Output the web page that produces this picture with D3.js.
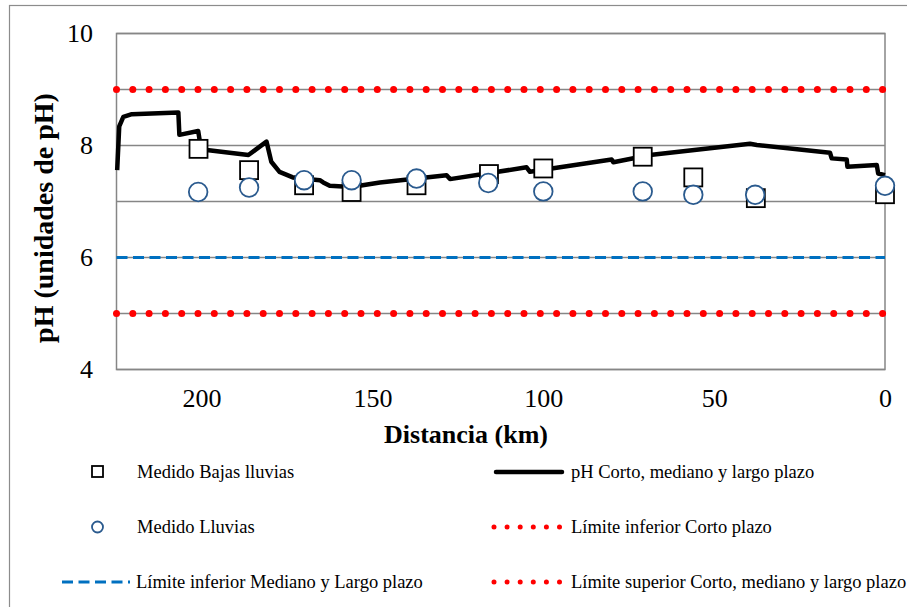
<!DOCTYPE html>
<html>
<head>
<meta charset="utf-8">
<script src="https://cdn.jsdelivr.net/npm/d3@7"></script>
<style>
  body { margin: 0; background: #fff; }
  svg, svg text { font-family: "Liberation Serif", "Times New Roman", serif; }
</style>
</head>
<body>
<svg id="chart" width="907" height="607"></svg>
<script>
// modelled pH along the river (km, pH)
var modelKm = [224.7, 224.1, 222.9, 220.4, 206.8, 206.5, 201.0, 200.5, 198.5, 186.3, 181.0,
  179.6, 177.2, 173.3, 165.4, 164.4, 162.5, 156.1, 147.8, 128.3, 127.3, 104.9, 103.9,
  80.0, 79.5, 68.8, 39.5, 37.5, 16.1, 15.6, 11.2, 11.0, 2.4, 2.0, 0];
var modelPH = [7.56, 8.34, 8.51, 8.56, 8.59, 8.19, 8.26, 8.07, 7.92, 7.83, 8.07,
  7.71, 7.53, 7.43, 7.38, 7.34, 7.28, 7.26, 7.34, 7.47, 7.40, 7.61, 7.53,
  7.75, 7.70, 7.83, 8.03, 8.01, 7.87, 7.77, 7.75, 7.62, 7.65, 7.50, 7.47];

// field measurements
var lowRainKm = [200.9, 186.1, 170.0, 156.1, 137.1, 115.9, 100.0, 70.9, 56.1, 37.8, 0];
var lowRainPH = [7.94, 7.56, 7.29, 7.17, 7.29, 7.49, 7.59, 7.80, 7.43, 7.06, 7.13];
var rainKm = [201.0, 186.1, 170.0, 156.1, 137.1, 116.1, 100.0, 70.9, 56.1, 38.0, 0];
var rainPH = [7.17, 7.25, 7.38, 7.38, 7.41, 7.33, 7.18, 7.18, 7.12, 7.12, 7.28];

// limits
var upperShort = 9, lowerShort = 5, lowerMedLong = 6;

var xTicks = [200, 150, 100, 50, 0];
var yTicks = [4, 6, 8, 10];
var gridValues = [4, 5, 6, 7, 8, 9, 10];

var serif = "'Liberation Serif', 'Times New Roman', serif";
var svg = d3.select("#chart");
var plot = {left: 116.5, right: 885, top: 33.5, bottom: 369.5};

var x = d3.scaleLinear().domain([224.9, 0]).range([plot.left, plot.right]);
var y = d3.scaleLinear().domain([4, 10]).range([plot.bottom, plot.top]);

// outer chart border
svg.append("rect")
    .attr("x", 9.5).attr("y", 5.5)
    .attr("width", 920).attr("height", 620)
    .attr("fill", "none").attr("stroke", "#8c8c8c").attr("stroke-width", 1.2);

// gridlines
svg.append("g").selectAll("line")
    .data(gridValues)
  .enter().append("line")
    .attr("x1", plot.left).attr("x2", plot.right)
    .attr("y1", function(d) { return y(d); })
    .attr("y2", function(d) { return y(d); })
    .attr("stroke", "#868686").attr("stroke-width", 1.5);

// plot frame
svg.append("rect")
    .attr("x", plot.left).attr("y", plot.top)
    .attr("width", plot.right - plot.left).attr("height", plot.bottom - plot.top)
    .attr("fill", "none").attr("stroke", "#868686").attr("stroke-width", 1.5);

// axes (labels only)
var xAxis = svg.append("g")
    .attr("transform", "translate(0," + plot.bottom + ")")
    .call(d3.axisBottom(x).tickValues(xTicks).tickFormat(d3.format("d")).tickSize(0));
var yAxis = svg.append("g")
    .attr("transform", "translate(" + plot.left + ",0)")
    .call(d3.axisLeft(y).tickValues(yTicks).tickFormat(d3.format("d")).tickSize(0).tickPadding(23.5));
[xAxis, yAxis].forEach(function(a) {
  a.select(".domain").remove();
  a.attr("font-family", null).attr("font-size", null);
  a.selectAll("text")
      .style("font-family", serif)
      .style("font-size", "26px").attr("fill", "#000");
});
xAxis.selectAll("text").attr("y", 28.5).attr("dy", "0.35em");

// axis titles
svg.append("text")
    .attr("x", 466).attr("y", 443)
    .attr("text-anchor", "middle")
    .style("font-family", serif)
    .style("font-size", "26px").style("font-weight", "bold")
    .text("Distancia (km)");
svg.append("text")
    .attr("transform", "translate(53,218) rotate(-90)")
    .attr("text-anchor", "middle")
    .style("font-family", serif)
    .style("font-size", "28px").style("font-weight", "bold")
    .text("pH (unidades de pH)");

// limit lines
function limitLine(g, v, kind) {
  var l = g.append("line")
      .attr("x1", plot.left).attr("x2", plot.right)
      .attr("y1", y(v)).attr("y2", y(v));
  styleLine(l, kind);
}
function styleLine(l, kind) {
  if (kind === "dots") {
    l.attr("stroke", "#ff0000").attr("stroke-width", 7)
     .attr("stroke-linecap", "round").attr("stroke-dasharray", "0 16.3");
  } else if (kind === "dash") {
    l.attr("stroke", "#0070c0").attr("stroke-width", 3.2)
     .attr("stroke-dasharray", "11 5.5");
  } else {
    l.attr("stroke", "#000").attr("stroke-width", 4.5).attr("stroke-linecap", "round");
  }
}
var limits = svg.append("g");
limitLine(limits, upperShort, "dots");
limitLine(limits, lowerShort, "dots");
limitLine(limits, lowerMedLong, "dash");

// model line
var model = modelKm.map(function(k, i) { return [k, modelPH[i]]; });
svg.append("path")
    .datum(model)
    .attr("fill", "none").attr("stroke", "#000").attr("stroke-width", 4.5)
    .attr("stroke-linejoin", "round")
    .attr("d", d3.line().x(function(d) { return x(d[0]); }).y(function(d) { return y(d[1]); }));

// squares
svg.append("g").selectAll("rect")
    .data(lowRainKm.map(function(k, i) { return [k, lowRainPH[i]]; }))
  .enter().append("rect")
    .attr("x", function(d) { return x(d[0]) - 9; })
    .attr("y", function(d) { return y(d[1]) - 9; })
    .attr("width", 18).attr("height", 18)
    .attr("fill", "#fff").attr("stroke", "#000").attr("stroke-width", 1.8);

// circles
svg.append("g").selectAll("circle")
    .data(rainKm.map(function(k, i) { return [k, rainPH[i]]; }))
  .enter().append("circle")
    .attr("cx", function(d) { return x(d[0]); })
    .attr("cy", function(d) { return y(d[1]); })
    .attr("r", 9.3)
    .attr("fill", "#fff").attr("stroke", "#2a5a8e").attr("stroke-width", 1.8);

// legend
var legend = svg.append("g");
function legendText(tx, ty, s) {
  legend.append("text").attr("x", tx).attr("y", ty).attr("dy", "0.35em")
      .style("font-family", serif).style("font-size", "18.5px").text(s);
}
legend.append("rect").attr("x", 92).attr("y", 466).attr("width", 11).attr("height", 11)
    .attr("fill", "#fff").attr("stroke", "#000").attr("stroke-width", 1.8);
legendText(137, 472, "Medido Bajas lluvias");
legend.append("circle").attr("cx", 97.5).attr("cy", 527).attr("r", 5.5)
    .attr("fill", "#fff").attr("stroke", "#2a5a8e").attr("stroke-width", 1.8);
legendText(137, 527, "Medido Lluvias");
styleLine(legend.append("line").attr("x1", 62).attr("x2", 130).attr("y1", 582).attr("y2", 582), "dash");
legendText(136, 582, "Límite inferior Mediano y Largo plazo");

styleLine(legend.append("line").attr("x1", 496).attr("x2", 562).attr("y1", 472).attr("y2", 472), "line");
legendText(571, 472, "pH Corto, mediano y largo plazo");
var dots1 = legend.append("line").attr("x1", 494).attr("x2", 562).attr("y1", 527).attr("y2", 527);
styleLine(dots1, "dots");
dots1.attr("stroke-width", 5).attr("stroke-dasharray", "0 13.1");
legendText(571, 527, "Límite inferior Corto plazo");
var dots2 = legend.append("line").attr("x1", 494).attr("x2", 562).attr("y1", 582).attr("y2", 582);
styleLine(dots2, "dots");
dots2.attr("stroke-width", 5).attr("stroke-dasharray", "0 13.1");
legendText(571, 582, "Límite superior Corto, mediano y largo plazo");
</script>
</body>
</html>
